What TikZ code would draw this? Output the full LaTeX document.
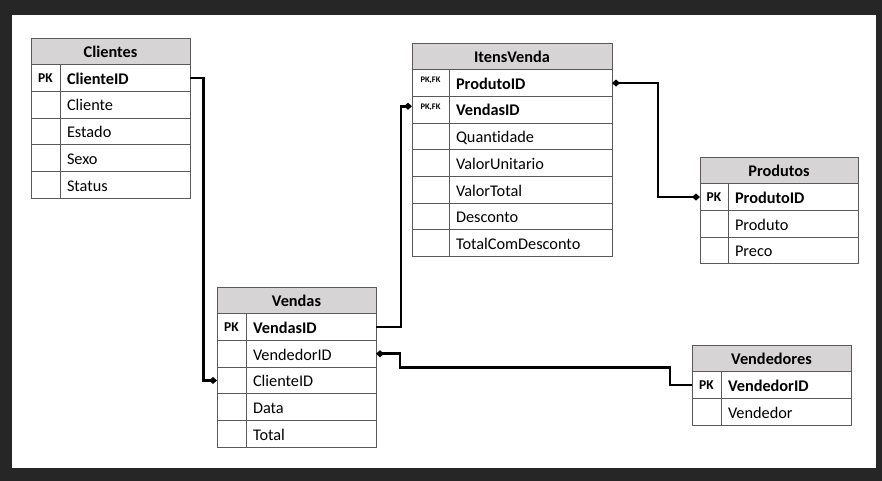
\documentclass[tikz,border=0pt]{standalone}
\usepackage{fontspec}
\setmainfont{Carlito}[Ligatures=NoCommon]
\usetikzlibrary{positioning,arrows.meta}

\definecolor{bgdark}{HTML}{262626}
\definecolor{tblgray}{HTML}{5A5A5A}
\definecolor{hdrgray}{HTML}{D6D4D4}

\tikzset{
  hdr/.style={draw=tblgray, line width=0.9pt, fill=hdrgray, font=\fontsize{16.3}{19}\selectfont\bfseries,
    minimum width=#1, minimum height=26.7pt, inner sep=0pt, outer sep=0pt,
    text height=13pt, text depth=1.5pt, anchor=north west},
  field/.style={draw=tblgray, line width=0.9pt, font=\fontsize{16.3}{19}\selectfont,
    text width=#1, align=left, minimum height=26.7pt, inner xsep=7pt, inner ysep=0pt, outer sep=0pt,
    text height=14pt, text depth=1.5pt},
  field/.default=116pt,
  keycell/.style={draw=tblgray, line width=0.9pt, font=\fontsize{13.5}{15}\selectfont\bfseries,
    minimum width=#1, minimum height=26.7pt, inner sep=0pt, outer sep=0pt,
    text height=10pt, text depth=1.5pt},
  keycell/.default=29pt,
  fkcell/.style={keycell=37pt, font=\fontsize{8.5}{10}\selectfont\bfseries, text height=2pt, text depth=3pt},
  conn/.style={line width=2.6pt, black},
  fk/.tip={Diamond[length=8pt, width=7pt]}
}

\begin{document}
\begin{tikzpicture}[x=1pt, y=-1pt]
        \useasboundingbox (0,0) rectangle (882,481);

        % frame
        \fill[bgdark] (0,0) rectangle (882,481);
        \fill[white] (12,15) rectangle (876,468);

        % Clientes
        \node[hdr=159pt] (cli) at (31,38) {Clientes};
        \node[field, anchor=north east] (cli1) at (cli.south east) {\bfseries ClienteID};
        \node[field, below=0pt of cli1] (cli2) {Cliente};
        \node[field, below=0pt of cli2] (cli3) {Estado};
        \node[field, below=0pt of cli3] (cli4) {Sexo};
        \node[field, below=0pt of cli4] (cli5) {Status};
        \node[keycell, left=0pt of cli1] (cli1k) {PK};
        \node[keycell, left=0pt of cli2] (cli2k) {};
        \node[keycell, left=0pt of cli3] (cli3k) {};
        \node[keycell, left=0pt of cli4] (cli4k) {};
        \node[keycell, left=0pt of cli5] (cli5k) {};

        % ItensVenda
        \node[hdr=200pt] (ite) at (412,43) {ItensVenda};
        \node[field=149pt, anchor=north east] (ite1) at (ite.south east) {\bfseries ProdutoID};
        \node[field=149pt, below=0pt of ite1] (ite2) {\bfseries VendasID};
        \node[field=149pt, below=0pt of ite2] (ite3) {Quantidade};
        \node[field=149pt, below=0pt of ite3] (ite4) {ValorUnitario};
        \node[field=149pt, below=0pt of ite4] (ite5) {ValorTotal};
        \node[field=149pt, below=0pt of ite5] (ite6) {Desconto};
        \node[field=149pt, below=0pt of ite6] (ite7) {TotalComDesconto};
        \node[fkcell, left=0pt of ite1] (ite1k) {PK,FK};
        \node[fkcell, left=0pt of ite2] (ite2k) {PK,FK};
        \node[keycell=37pt, left=0pt of ite3] (ite3k) {};
        \node[keycell=37pt, left=0pt of ite4] (ite4k) {};
        \node[keycell=37pt, left=0pt of ite5] (ite5k) {};
        \node[keycell=37pt, left=0pt of ite6] (ite6k) {};
        \node[keycell=37pt, left=0pt of ite7] (ite7k) {};

        % Vendas
        \node[hdr=159pt] (ven) at (217,287) {Vendas};
        \node[field, anchor=north east] (ven1) at (ven.south east) {\bfseries VendasID};
        \node[field, below=0pt of ven1] (ven2) {VendedorID};
        \node[field, below=0pt of ven2] (ven3) {ClienteID};
        \node[field, below=0pt of ven3] (ven4) {Data};
        \node[field, below=0pt of ven4] (ven5) {Total};
        \node[keycell, left=0pt of ven1] (ven1k) {PK};
        \node[keycell, left=0pt of ven2] (ven2k) {};
        \node[keycell, left=0pt of ven3] (ven3k) {};
        \node[keycell, left=0pt of ven4] (ven4k) {};
        \node[keycell, left=0pt of ven5] (ven5k) {};

        % Produtos
        \node[hdr=158pt] (pro) at (700,157) {Produtos};
        \node[field, anchor=north east] (pro1) at (pro.south east) {\bfseries ProdutoID};
        \node[field, below=0pt of pro1] (pro2) {Produto};
        \node[field, below=0pt of pro2] (pro3) {Preco};
        \node[keycell=28pt, left=0pt of pro1] (pro1k) {PK};
        \node[keycell=28pt, left=0pt of pro2] (pro2k) {};
        \node[keycell=28pt, left=0pt of pro3] (pro3k) {};

        % Vendedores
        \node[hdr=159pt] (ved) at (692,345) {Vendedores};
        \node[field, anchor=north east] (ved1) at (ved.south east) {\bfseries VendedorID};
        \node[field, below=0pt of ved1] (ved2) {Vendedor};
        \node[keycell, left=0pt of ved1] (ved1k) {PK};
        \node[keycell, left=0pt of ved2] (ved2k) {};

        % relations
        \draw[conn, -fk] (cli1.east) -- ++(13.5,0) |- (ven3k.west);
        \draw[conn, -fk] (ven1.east) -- ++(25,0) |- ([yshift=3.5pt]ite2k.west);
        \draw[conn, fk-fk] (ite1.east) -- ++(46,0) |- (pro1k.west);
        \draw[conn, fk-] (ven2.east) -- ++(24,0) -- ++(0,13.5) -| ([xshift=-22pt]ved1k.west) -- (ved1k.west);
    \end{tikzpicture}
\end{document}
